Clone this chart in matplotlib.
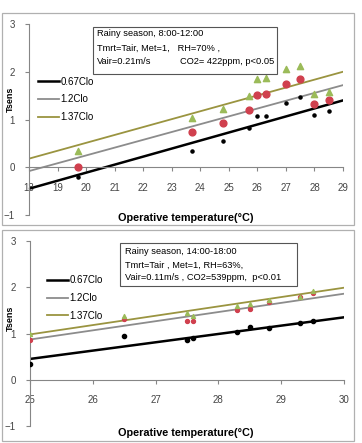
import matplotlib.pyplot as plt
from matplotlib.patches import Rectangle

plt.rcParams['font.family'] = ['Liberation Sans', 'DejaVu Sans']

# top panel: rainy season 8:00-12:00
top_x = [19.7, 23.7, 24.8, 25.7, 26.0, 26.3, 27.0, 27.5, 28.0, 28.5]
top_067 = [-0.2, 0.33, 0.55, 0.82, 1.07, 1.08, 1.35, 1.47, 1.10, 1.18]
top_12 = [0.0, 0.73, 0.92, 1.20, 1.52, 1.53, 1.75, 1.85, 1.33, 1.40]
top_137 = [0.33, 1.03, 1.22, 1.50, 1.85, 1.86, 2.05, 2.13, 1.53, 1.58]
top_fit_x = [18, 29]
top_fit_067 = [-0.45, 1.40]
top_fit_12 = [-0.08, 1.72]
top_fit_137 = [0.18, 2.00]

# bottom panel: rainy season 14:00-18:00
bot_x = [25.0, 26.5, 27.5, 27.6, 28.3, 28.5, 28.8, 29.3, 29.5]
bot_067 = [0.35, 0.95, 0.87, 0.90, 1.03, 1.13, 1.12, 1.23, 1.28]
bot_12 = [0.87, 1.32, 1.27, 1.28, 1.50, 1.54, 1.68, 1.78, 1.88]
bot_137 = [0.98, 1.38, 1.45, 1.38, 1.60, 1.63, 1.73, 1.80, 1.92]
bot_fit_x = [25, 30]
bot_fit_067 = [0.45, 1.35]
bot_fit_12 = [0.87, 1.86]
bot_fit_137 = [0.98, 1.99]

labels = ['0.67Clo', '1.2Clo', '1.37Clo']
line_colors = ['black', '#8c8c8c', '#9a9440']
gray = '#868686'

W, H = 362, 443
fig = plt.figure(figsize=(W / 100, H / 100), dpi=100)


def fx(x):
    return x / W


def fy(y):
    return 1 - y / H


def rect(x0, y0, x1, y1, ec, lw, fill, z):
    fig.patches.append(Rectangle((fx(x0), fy(y1)), (x1 - x0) / W, (y1 - y0) / H,
                                 transform=fig.transFigure, fill=fill, fc='white',
                                 ec=ec, lw=lw, zorder=z))


# panel borders
rect(2, 13, 354, 225, '#b0b0b0', 0.9, False, 0)
rect(2, 230, 354, 441, '#b0b0b0', 0.9, False, 0)


def panel(box, xlim, x, ys, fitx, fits, big, leg, ylab_y, xlab_y):
    x0, y0, x1, y1 = box
    ax = fig.add_axes([fx(x0), fy(y1), (x1 - x0) / W, (y1 - y0) / H])
    ax.set_xlim(*xlim)
    ax.set_ylim(-1, 3)
    for f, c, lab, lw in zip(fits, line_colors, labels, [1.8, 1.3, 1.3]):
        ax.plot(fitx, f, color=c, lw=lw, label=lab)
    if big:
        ax.scatter(x, ys[0], s=5, color='black', zorder=3)
        ax.scatter(x, ys[1], s=24, color='#d0404e', zorder=3)
        ax.scatter(x, ys[2], s=20, marker='^', color='#9bbb59', zorder=3)
    else:
        ax.scatter(x, ys[0], s=9, color='black', zorder=3)
        ax.scatter(x, ys[1], s=8, color='#d0404e', zorder=3)
        ax.scatter(x, ys[2], s=8, marker='^', color='#9bbb59', zorder=3)
    for s in ['top', 'right']:
        ax.spines[s].set_visible(False)
    ax.spines['bottom'].set_position(('data', 0))
    ax.spines['left'].set_color(gray)
    ax.spines['bottom'].set_color(gray)
    ax.set_yticks([-1, 0, 1, 2, 3])
    ax.set_xticks(range(xlim[0], xlim[1] + 1))
    ax.tick_params(colors=gray, labelcolor='#444444', labelsize=7, length=3)
    ax.tick_params(axis='x', pad=8)
    ax.tick_params(axis='y', pad=7)
    ax.patch.set_alpha(0)
    fig.text(fx(10), fy(ylab_y), 'Tsens', fontsize=6.5, fontweight='bold',
             rotation=90, ha='center', va='center')
    fig.text(fx(186), fy(xlab_y), 'Operative temperature(°C)', fontsize=7.8,
             fontweight='bold', ha='center', va='center')
    ax.legend(loc='upper left', bbox_to_anchor=leg, frameon=False, fontsize=7,
              handlelength=2.2, handletextpad=0.1, labelspacing=0.8,
              borderaxespad=0, borderpad=0)
    return ax


def note(box, lines, ys):
    rect(*box, '#555555', 0.8, True, 5)
    for (t, lx), ly in zip(lines, ys):
        for part, px in zip(t, lx):
            fig.text(fx(px), fy(ly), part, fontsize=6.7, ha='left',
                     va='center', zorder=6)


panel((29, 24, 343, 215), (18, 29), top_x, [top_067, top_12, top_137],
      top_fit_x, [top_fit_067, top_fit_12, top_fit_137], True,
      (0.029, 0.725), 99, 218)
note((93, 27, 277, 74),
     [(['Rainy season, 8:00-12:00'], [97]),
      (['Tmrt=Tair, Met=1,   RH=70% ,'], [97]),
      (['Vair=0.21m/s', 'CO2= 422ppm, p<0.05'], [97, 180])],
     [34, 48, 62])

panel((30, 241, 344, 426), (25, 30), bot_x, [bot_067, bot_12, bot_137],
      bot_fit_x, [bot_fit_067, bot_fit_12, bot_fit_137], False,
      (0.054, 0.815), 318, 433)
note((120, 243, 297, 286),
     [(['Rainy season, 14:00-18:00'], [125]),
      (['Tmrt=Tair , Met=1, RH=63%,'], [125]),
      (['Vair=0.11m/s , CO2=539ppm,  p<0.01'], [125])],
     [252, 265, 278])

fig.savefig('out.png', dpi=100)
